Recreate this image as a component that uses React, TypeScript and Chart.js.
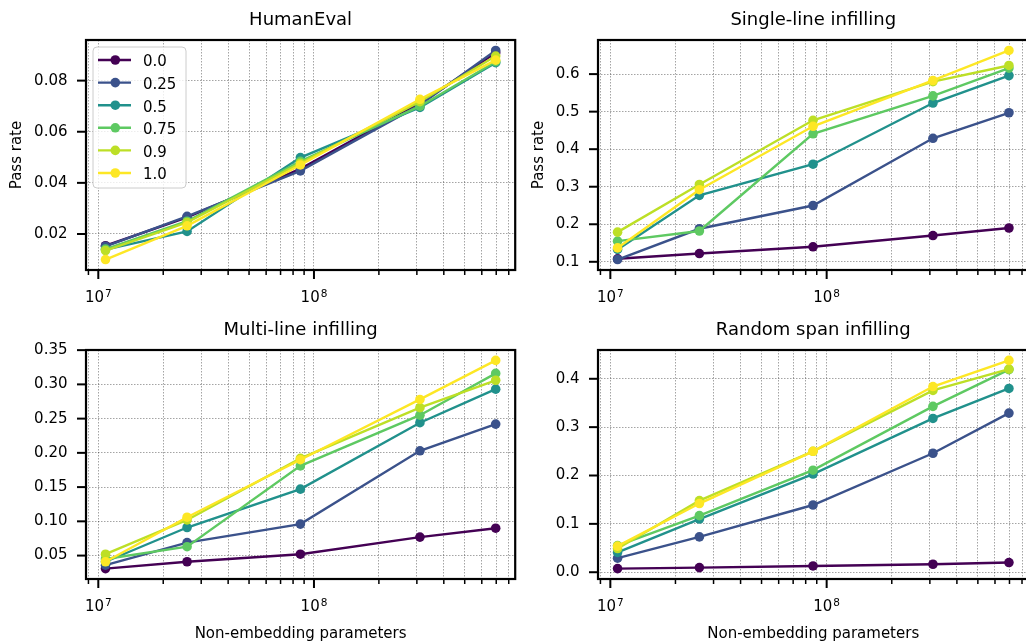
import React, { useEffect, useRef } from "react";
import { Chart, registerables } from "chart.js";

Chart.register(...registerables);

// ---- data ----
const modelParams = [1.08e7, 2.58e7, 8.65e7, 3.1e8, 6.96e8];
const fimRates = ["0.0", "0.25", "0.5", "0.75", "0.9", "1.0"];
const viridisColors = ["#440154", "#3b528b", "#21918c", "#5ec962", "#bddf26", "#fde725"];

const humanEvalPass = [
  [0.0154, 0.0265, 0.0455, 0.0711, 0.0909],
  [0.0152, 0.0269, 0.0447, 0.0705, 0.0918],
  [0.0139, 0.021, 0.0499, 0.0695, 0.087],
  [0.0141, 0.025, 0.0484, 0.07, 0.0874],
  [0.0135, 0.0245, 0.0477, 0.0718, 0.0896],
  [0.01, 0.0232, 0.047, 0.0727, 0.088],
];
const singleLinePass = [
  [0.108, 0.122, 0.14, 0.17, 0.19],
  [0.106, 0.188, 0.25, 0.429, 0.497],
  [0.133, 0.277, 0.36, 0.523, 0.596],
  [0.155, 0.182, 0.441, 0.542, 0.616],
  [0.179, 0.306, 0.477, 0.58, 0.623],
  [0.137, 0.292, 0.461, 0.583, 0.663],
];
const multiLinePass = [
  [0.031, 0.041, 0.052, 0.077, 0.09],
  [0.036, 0.069, 0.096, 0.203, 0.242],
  [0.041, 0.091, 0.147, 0.244, 0.293],
  [0.045, 0.063, 0.181, 0.255, 0.316],
  [0.052, 0.102, 0.192, 0.266, 0.306],
  [0.041, 0.106, 0.19, 0.278, 0.335],
];
const randomSpanPass = [
  [0.0075, 0.0096, 0.013, 0.0165, 0.02],
  [0.029, 0.073, 0.139, 0.246, 0.329],
  [0.041, 0.11, 0.203, 0.318, 0.38],
  [0.055, 0.117, 0.211, 0.343, 0.419],
  [0.049, 0.148, 0.25, 0.376, 0.42],
  [0.054, 0.142, 0.25, 0.384, 0.438],
];

const humanEvalYTicks = [0.02, 0.04, 0.06, 0.08];
const humanEvalYLabels = ["0.02", "0.04", "0.06", "0.08"];
const singleLineYTicks = [0.1, 0.2, 0.3, 0.4, 0.5, 0.6];
const singleLineYLabels = ["0.1", "0.2", "0.3", "0.4", "0.5", "0.6"];
const multiLineYTicks = [0.05, 0.1, 0.15, 0.2, 0.25, 0.3, 0.35];
const multiLineYLabels = ["0.05", "0.10", "0.15", "0.20", "0.25", "0.30", "0.35"];
const randomSpanYTicks = [0, 0.1, 0.2, 0.3, 0.4];
const randomSpanYLabels = ["0.0", "0.1", "0.2", "0.3", "0.4"];

const xMajorTicks = [1e7, 1e8];
const xMajorExponents = ["7", "8"];

const FONT = '"DejaVu Sans", "Liberation Sans", sans-serif';

const gridXTicks: number[] = [];
for (let e = 6; e <= 8; e++) {
  for (let m = 1; m <= 9; m++) gridXTicks.push(m * Math.pow(10, e));
}

type Area = { left: number; top: number; right: number; bottom: number };
type PanelProps = {
  title: string;
  rates: number[][];
  yTicks: number[];
  yTickLabels: string[];
  left: number;
  top: number;
  width: number;
  height: number;
  area: Area;
  yLabelX: number | null;
  xLabel: boolean;
  legend: boolean;
};

function Panel(p: PanelProps) {
  const ref = useRef<HTMLCanvasElement | null>(null);
  useEffect(() => {
    const canvas = ref.current;
    if (!canvas) return;
    const lo = Math.log10(Math.min(...modelParams));
    const hi = Math.log10(Math.max(...modelParams));
    const xPad = 0.05 * (hi - lo);
    const all = p.rates.flat();
    const yMinD = Math.min(...all);
    const yMaxD = Math.max(...all);
    const yPad = 0.05 * (yMaxD - yMinD);

    const datasets = p.rates.map((vals, i) => ({
      label: fimRates[i],
      data: modelParams.map((x, j) => ({ x, y: vals[j] })),
      borderColor: viridisColors[i],
      backgroundColor: viridisColors[i],
      pointBackgroundColor: viridisColors[i],
      pointBorderColor: viridisColors[i],
      pointBorderWidth: 0,
      pointRadius: 4.8,
      borderWidth: 2.4,
      tension: 0,
      order: fimRates.length - i,
    }));

    const gridColor = "rgba(0,0,0,0.4)";
    const a = p.area;

    const decor = {
      id: "decor",
      afterDraw(chart: any) {
        const ctx = chart.ctx as CanvasRenderingContext2D;
        const ca = chart.chartArea;
        const xs = chart.scales.x;
        const ys = chart.scales.y;
        ctx.save();
        ctx.strokeStyle = "#000";
        ctx.setLineDash([]);
        // x ticks
        for (const v of gridXTicks) {
          const px = xs.getPixelForValue(v);
          if (px < ca.left - 0.5 || px > ca.right + 0.5) continue;
          const major = xMajorTicks.includes(v);
          ctx.lineWidth = major ? 2 : 1.5;
          ctx.beginPath();
          ctx.moveTo(px, ca.bottom);
          ctx.lineTo(px, ca.bottom + (major ? 9 : 5));
          ctx.stroke();
        }
        // y ticks
        for (const v of p.yTicks) {
          const py = ys.getPixelForValue(v);
          ctx.lineWidth = 2;
          ctx.beginPath();
          ctx.moveTo(ca.left - 9, py);
          ctx.lineTo(ca.left, py);
          ctx.stroke();
        }
        // spines
        ctx.lineWidth = 2.2;
        ctx.strokeRect(ca.left, ca.top, ca.right - ca.left, ca.bottom - ca.top);

        // x tick labels (10^n)
        ctx.fillStyle = "#000";
        ctx.textBaseline = "alphabetic";
        ctx.textAlign = "left";
        xMajorTicks.forEach((v, i) => {
          const px = xs.getPixelForValue(v);
          const exp = xMajorExponents[i];
          ctx.font = `15px ${FONT}`;
          const w1 = ctx.measureText("10").width;
          ctx.font = `10.5px ${FONT}`;
          const w2 = ctx.measureText(exp).width;
          const x0 = px - (w1 + w2 + 1) / 2;
          ctx.font = `15px ${FONT}`;
          ctx.fillText("10", x0, ca.bottom + 32);
          ctx.font = `10.5px ${FONT}`;
          ctx.fillText(exp, x0 + w1 + 1, ca.bottom + 27);
        });

        // title
        ctx.font = `18px ${FONT}`;
        ctx.textAlign = "center";
        ctx.fillText(p.title, (ca.left + ca.right) / 2, ca.top - 15);

        // x label
        if (p.xLabel) {
          ctx.font = `15px ${FONT}`;
          ctx.textAlign = "center";
          ctx.fillText("Non-embedding parameters", (ca.left + ca.right) / 2, ca.bottom + 59);
        }
        // y label
        if (p.yLabelX !== null) {
          ctx.save();
          ctx.translate(p.yLabelX, (ca.top + ca.bottom) / 2);
          ctx.rotate(-Math.PI / 2);
          ctx.font = `15px ${FONT}`;
          ctx.textAlign = "center";
          ctx.fillText("Pass rate", 0, 0);
          ctx.restore();
        }
        // legend
        if (p.legend) {
          const bx = ca.left + 7;
          const by = ca.top + 7;
          const bw = 93;
          const bh = 141;
          ctx.beginPath();
          if ((ctx as any).roundRect) (ctx as any).roundRect(bx, by, bw, bh, 4);
          else ctx.rect(bx, by, bw, bh);
          ctx.fillStyle = "rgba(255,255,255,0.8)";
          ctx.fill();
          ctx.strokeStyle = "#cccccc";
          ctx.lineWidth = 1;
          ctx.stroke();
          fimRates.forEach((lab, i) => {
            const ry = ca.top + 20 + i * 22.6;
            ctx.strokeStyle = viridisColors[i];
            ctx.lineWidth = 2.4;
            ctx.beginPath();
            ctx.moveTo(ca.left + 12, ry);
            ctx.lineTo(ca.left + 45, ry);
            ctx.stroke();
            ctx.fillStyle = viridisColors[i];
            ctx.beginPath();
            ctx.arc(ca.left + 29.3, ry, 4.8, 0, Math.PI * 2);
            ctx.fill();
            ctx.fillStyle = "#000";
            ctx.font = `15px ${FONT}`;
            ctx.textAlign = "left";
            ctx.fillText(lab, ca.left + 57, ry + 6.3);
          });
        }
        ctx.restore();
      },
    };

    const chart = new Chart(canvas, {
      type: "line",
      data: { datasets: datasets as any },
      options: {
        responsive: false,
        animation: false,
        devicePixelRatio: 1,
        events: [],
        layout: { padding: { left: 0, top: a.top, right: p.width - a.right, bottom: 0 } },
        plugins: {
          legend: { display: false },
          tooltip: { enabled: false },
          title: { display: false },
        },
        scales: {
          x: {
            type: "logarithmic",
            min: Math.pow(10, lo - xPad),
            max: Math.pow(10, hi + xPad),
            afterFit: (s: any) => {
              s.height = p.height - a.bottom;
            },
            afterBuildTicks: (s: any) => {
              s.ticks = gridXTicks.filter((v) => v >= s.min && v <= s.max).map((v) => ({ value: v }));
            },
            ticks: { display: false },
            grid: { color: gridColor, lineWidth: 0.9, drawTicks: false },
            border: { display: false, dash: [1.5, 1.5] },
          },
          y: {
            type: "linear",
            min: yMinD - yPad,
            max: yMaxD + yPad,
            afterFit: (s: any) => {
              s.width = a.left;
            },
            afterBuildTicks: (s: any) => {
              s.ticks = p.yTicks.map((v) => ({ value: v }));
            },
            ticks: {
              autoSkip: false,
              callback: (v: any) => {
                const idx = p.yTicks.findIndex((t) => Math.abs(t - v) < 1e-9);
                return idx >= 0 ? p.yTickLabels[idx] : "";
              },
              font: { family: FONT, size: 15 },
              color: "#000",
              padding: 18.5,
            },
            grid: { color: gridColor, lineWidth: 0.9, drawTicks: false },
            border: { display: false, dash: [1.5, 1.5] },
          },
        },
      } as any,
      plugins: [decor as any],
    });
    return () => chart.destroy();
  }, []);
  return (
    <canvas
      ref={ref}
      width={p.width}
      height={p.height}
      style={{ position: "absolute", left: p.left, top: p.top, width: p.width, height: p.height }}
    />
  );
}

export default function App() {
  return (
    <div
      style={{
        position: "absolute",
        left: 0,
        top: 0,
        width: 1026,
        height: 643,
        overflow: "hidden",
        background: "#fff",
      }}
    >
      <Panel
        title="HumanEval"
        rates={humanEvalPass}
        yTicks={humanEvalYTicks}
        yTickLabels={humanEvalYLabels}
        left={0}
        top={0}
        width={520}
        height={310}
        area={{ left: 86, top: 40, right: 516, bottom: 270 }}
        yLabelX={20.7}
        xLabel={false}
        legend={true}
      />
      <Panel
        title="Single-line infilling"
        rates={singleLinePass}
        yTicks={singleLineYTicks}
        yTickLabels={singleLineYLabels}
        left={520}
        top={0}
        width={520}
        height={310}
        area={{ left: 78, top: 40, right: 508.5, bottom: 270 }}
        yLabelX={23.3}
        xLabel={false}
        legend={false}
      />
      <Panel
        title="Multi-line infilling"
        rates={multiLinePass}
        yTicks={multiLineYTicks}
        yTickLabels={multiLineYLabels}
        left={0}
        top={310}
        width={520}
        height={333}
        area={{ left: 86, top: 40, right: 516, bottom: 269 }}
        yLabelX={null}
        xLabel={true}
        legend={false}
      />
      <Panel
        title="Random span infilling"
        rates={randomSpanPass}
        yTicks={randomSpanYTicks}
        yTickLabels={randomSpanYLabels}
        left={520}
        top={310}
        width={520}
        height={333}
        area={{ left: 78, top: 40, right: 508.5, bottom: 269 }}
        yLabelX={null}
        xLabel={true}
        legend={false}
      />
    </div>
  );
}
